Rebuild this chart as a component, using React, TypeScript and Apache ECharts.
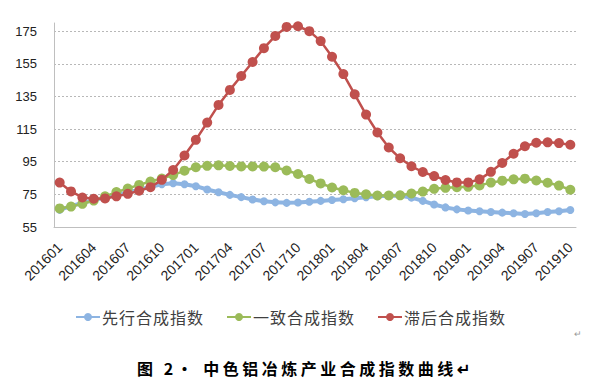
import React, { useEffect, useRef } from "react";
import * as echarts from "echarts";

const months: string[] = [];
for (let y = 2016; y <= 2019; y++) {
  for (let m = 1; m <= 12; m++) {
    if (y === 2019 && m > 10) break;
    months.push(`${y}${m < 10 ? "0" + m : m}`);
  }
}

const seriesNames = ["先行合成指数", "一致合成指数", "滞后合成指数"];

const leading = [
  65.5, 67.8, 69.8, 71.5, 73.0, 74.6, 76.2, 77.8, 79.6, 81.2,
  81.8, 81.2, 80.0, 78.0, 76.3, 74.7, 73.3, 71.9, 70.8, 70.1,
  69.8, 70.0, 70.5, 71.0, 71.5, 72.0, 72.6, 73.2, 73.8, 74.2,
  74.2, 73.0, 71.0, 68.8, 67.0, 65.8, 65.1, 64.6, 64.2, 63.8,
  63.4, 63.0, 63.4, 64.2, 64.7, 65.4,
];

const coincident = [
  66.4, 67.5, 69.2, 71.2, 73.8, 76.4, 78.6, 80.8, 82.9, 84.7,
  86.8, 89.5, 91.6, 92.5, 92.8, 92.4, 92.1, 92.1, 92.0, 91.6,
  89.6, 87.5, 84.4, 81.7, 79.2, 77.5, 75.9, 75.0, 74.3, 74.3,
  74.4, 75.5, 76.7, 78.4, 79.0, 79.4, 79.6, 80.5, 82.2, 83.4,
  84.2, 84.6, 83.5, 82.1, 80.4, 77.8,
];

const lagging = [
  82.2, 76.8, 73.1, 72.3, 72.5, 73.8, 75.3, 77.2, 79.4, 83.9,
  89.9, 98.8, 108.4, 119.0, 129.8, 139.0, 147.5, 156.1, 164.6, 172.1,
  177.6, 178.0, 175.0, 168.9, 159.3, 148.7, 136.3, 123.9, 112.9, 103.7,
  97.1, 92.2, 88.7, 86.2, 83.8, 82.3, 82.3, 84.2, 88.8, 94.2,
  99.9, 104.5, 106.6, 106.9, 106.4, 105.4,
];

const yMin = 55;
const yMax = 180;
const yInterval = 20;

const titleText = "图 2· 中色铝冶炼产业合成指数曲线↵";

export default function App() {
  const ref = useRef<HTMLDivElement>(null);
  useEffect(() => {
    if (!ref.current) return;
    const chart = echarts.init(ref.current, null, { renderer: "svg" });
    const font = "'Liberation Sans', Arial, sans-serif";
    const cjk = "'Noto Sans CJK SC', 'Liberation Sans', sans-serif";
    chart.setOption({
      animation: false,
      backgroundColor: "#ffffff",
      grid: { left: 54, right: 28, top: 23, bottom: 162, containLabel: false },
      legend: {
        data: seriesNames,
        left: 75,
        top: 309,
        padding: 0,
        itemWidth: 24,
        itemHeight: 10,
        itemGap: 28,
        textStyle: { fontFamily: cjk, fontSize: 16, color: "#404040", padding: [0, 0, 0, -3] },
      },
      xAxis: {
        type: "category",
        data: months,
        boundaryGap: true,
        axisLine: { lineStyle: { color: "#bfbfbf", width: 1 } },
        axisTick: { show: false },
        axisLabel: {
          interval: 2,
          rotate: 45,
          margin: 18,
          fontFamily: font,
          fontSize: 14,
          color: "#222",
        },
      },
      yAxis: {
        type: "value",
        min: yMin,
        max: yMax,
        interval: yInterval,
        axisLine: { show: true, lineStyle: { color: "#bfbfbf", width: 1 } },
        axisTick: { show: false },
        axisLabel: {
          margin: 17,
          fontFamily: font,
          fontSize: 13,
          color: "#222",
          showMaxLabel: false,
          formatter: (v: number) => (v === yMax ? "" : String(v)),
        },
        splitLine: {
          show: true,
          showMinLine: false,
          showMaxLine: false,
          lineStyle: { color: "#b8b8b8", type: [2, 2], width: 1 },
        },
      },
      series: [
        {
          name: seriesNames[0],
          type: "line",
          data: leading,
          symbol: "circle",
          symbolSize: 8,
          showAllSymbol: true,
          color: "#8db4e2",
          lineStyle: { width: 4, color: "#8db4e2" },
          itemStyle: { color: "#8db4e2" },
          z: 2,
        },
        {
          name: seriesNames[1],
          type: "line",
          data: coincident,
          symbol: "circle",
          symbolSize: 10,
          showAllSymbol: true,
          color: "#9bbb59",
          lineStyle: { width: 2.5, color: "#9bbb59" },
          itemStyle: { color: "#9bbb59" },
          z: 3,
        },
        {
          name: seriesNames[2],
          type: "line",
          data: lagging,
          symbol: "circle",
          symbolSize: 10,
          showAllSymbol: true,
          color: "#c0504d",
          lineStyle: { width: 2.5, color: "#c0504d" },
          itemStyle: { color: "#c0504d" },
          z: 4,
        },
      ],
      graphic: [
        {
          type: "text",
          left: 137,
          top: 360,
          style: {
            text: titleText,
            fontFamily: "'Noto Sans CJK SC', serif",
            fontSize: 16,
            fontWeight: "bold",
            fill: "#000",
          },
        },
        {
          type: "text",
          left: 574,
          top: 329,
          style: { text: "↵", fontSize: 9, fill: "#999", fontFamily: font },
        },
      ],
    });
    const texts = ref.current.querySelectorAll("text");
    texts.forEach((t) => {
      const c = t.textContent || "";
      if (c.indexOf("中色铝") >= 0) {
        (t as SVGTextElement).style.letterSpacing = "3.5px";
      } else if (seriesNames.indexOf(c) >= 0) {
        (t as SVGTextElement).style.letterSpacing = "1px";
      }
    });
    return () => chart.dispose();
  }, []);
  return <div ref={ref} style={{ width: 604, height: 389, position: "absolute", left: 0, top: 0 }} />;
}
